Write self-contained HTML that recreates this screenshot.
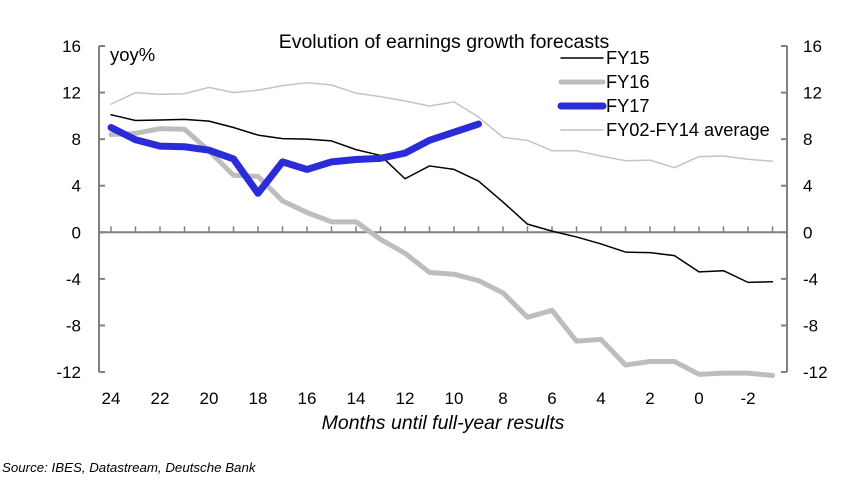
<!DOCTYPE html>
<html><head><meta charset="utf-8"><style>
body{margin:0;background:#fff;width:866px;height:486px;overflow:hidden;font-family:"Liberation Sans",Arial,sans-serif}
text{font-family:"Liberation Sans",Arial,sans-serif}
</style></head><body>
<svg id="c" width="866" height="486" xmlns="http://www.w3.org/2000/svg">
<text x="444" y="48" font-size="19.5" text-anchor="middle" fill="#000">Evolution of earnings growth forecasts</text>
<text x="110" y="61" font-size="18.5" fill="#000">yoy%</text>
<text x="443" y="429" font-size="19.5" font-style="italic" text-anchor="middle" fill="#000">Months until full-year results</text>
<text x="2" y="472" font-size="13.3" font-style="italic" fill="#000">Source: IBES, Datastream, Deutsche Bank</text>
<g id="axes"></g><g id="series"></g><g id="legend"></g>
</svg>
<script>
const months=[24,23,22,21,20,19,18,17,16,15,14,13,12,11,10,9,8,7,6,5,4,3,2,1,0,-1,-2,-3];
const fy15=[10.1,9.6,9.65,9.7,9.55,9.0,8.35,8.05,8.0,7.85,7.1,6.6,4.6,5.7,5.4,4.4,2.6,0.7,0.1,-0.4,-1.0,-1.7,-1.75,-2.0,-3.4,-3.3,-4.3,-4.25];
const fy16=[8.4,8.5,8.9,8.85,7.0,4.9,4.8,2.7,1.7,0.9,0.9,-0.6,-1.8,-3.45,-3.6,-4.15,-5.2,-7.3,-6.7,-9.35,-9.2,-11.4,-11.1,-11.1,-12.2,-12.1,-12.1,-12.5];
const fy17=[9.0,7.95,7.4,7.35,7.05,6.3,3.35,6.05,5.4,6.05,6.25,6.35,6.8,7.9,8.6,9.3];
const avg=[11.0,12.0,11.85,11.9,12.45,12.0,12.2,12.6,12.85,12.65,11.95,11.65,11.28,10.85,11.2,9.9,8.15,7.9,7.0,7.0,6.55,6.15,6.2,5.55,6.5,6.55,6.27,6.1];
const yTicks=[16,12,8,4,0,-4,-8,-12];
const xLabels=[24,22,20,18,16,14,12,10,8,6,4,2,0,-2];
const NS='http://www.w3.org/2000/svg';
const X=m=>111+(24-m)*24.5;
const Y=v=>232.3-v*11.643;
function el(tag,attrs,parent){const e=document.createElementNS(NS,tag);for(const k in attrs)e.setAttribute(k,attrs[k]);parent.appendChild(e);return e;}
const ax=document.getElementById('axes'),sg=document.getElementById('series'),lg=document.getElementById('legend');
const AC='#808080';
let a=el('line',{x1:99,y1:Y(16),x2:99,y2:Y(-12),stroke:AC,'stroke-width':2},ax);

a=el('line',{x1:787,y1:Y(16),x2:787,y2:Y(-12),stroke:AC,'stroke-width':2},ax);

a=el('line',{x1:99,y1:Y(0),x2:787,y2:Y(0),stroke:AC,'stroke-width':2},ax);

yTicks.forEach(t=>{
 el('line',{x1:99,y1:Y(t),x2:105,y2:Y(t),stroke:AC,'stroke-width':2},ax);
 el('line',{x1:781,y1:Y(t),x2:787,y2:Y(t),stroke:AC,'stroke-width':2},ax);
 let l=el('text',{x:81,y:Y(t)+6,'font-size':17,'text-anchor':'end',fill:'#000'},ax);l.textContent=t;
 
 let r=el('text',{x:803,y:Y(t)+6,'font-size':17,fill:'#000'},ax);r.textContent=t;
 
});
months.forEach(m=>{el('line',{x1:X(m),y1:Y(0),x2:X(m),y2:Y(0)-6,stroke:AC,'stroke-width':1.5},ax);});
xLabels.forEach(m=>{let t=el('text',{x:X(m),y:404,'font-size':17,'text-anchor':'middle',fill:'#000'},ax);t.textContent=m;
 });
function series(vals,color,w,name){
 const pts=vals.map((v,i)=>X(months[i])+','+Y(Math.max(v,-12.3))).join(' ');
 const p=el('polyline',{points:pts,fill:'none',stroke:color,'stroke-width':w,'stroke-linejoin':'round','stroke-linecap':'round'},sg);
 
}
series(avg,'#c4c4c4',1.5,'fy02-fy14-average-line');
series(fy16,'#bdbdbd',5,'fy16-line');
series(fy15,'#000',1.5,'fy15-line');
series(fy17,'#2b2bd8',7,'fy17-line');
const leg=[['FY15','#000',1.5,58],['FY16','#bdbdbd',5,82],['FY17','#2b2bd8',7,106],['FY02-FY14 average','#c4c4c4',1.5,130]];
leg.forEach(([n,c,w,y])=>{
 const g=el('g',{},lg);
 
 el('line',{x1:561,y1:y,x2:603,y2:y,stroke:c,'stroke-width':w,'stroke-linecap':'round'},g);
 const t=el('text',{x:606,y:y+6,'font-size':18.2,fill:'#000'},g);t.textContent=n;
});
</script>
</body></html>
